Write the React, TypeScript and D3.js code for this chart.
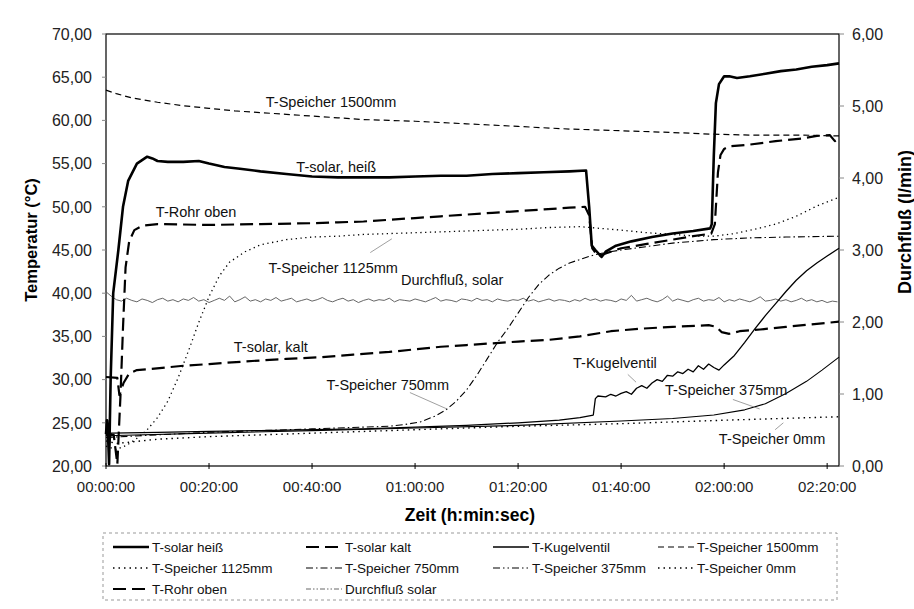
import React from "react";
import * as d3 from "d3";

// time in minutes since start, temperatures in °C, flow in l/min
const timeTicks = [0, 20, 40, 60, 80, 100, 120, 140];
const timeTickLabels = ["00:00:00", "00:20:00", "00:40:00", "01:00:00", "01:20:00", "01:40:00", "02:00:00", "02:20:00"];
const tempTicks = [20, 25, 30, 35, 40, 45, 50, 55, 60, 65, 70];
const flowTicks = [0, 1, 2, 3, 4, 5, 6];

const tSolarHeiss = [
  [0, 23.7], [0.2, 25.3], [0.4, 23.5], [0.6, 20.2], [0.9, 30], [1.4, 40], [2.4, 45], [3.3, 50], [4.3, 53],
  [6, 55], [8, 55.8], [9, 55.6], [10, 55.3], [12, 55.2], [15, 55.2], [18, 55.3], [20, 55.0], [23, 54.6],
  [26, 54.4], [30, 54.1], [35, 53.8], [40, 53.5], [45, 53.4], [50, 53.4], [55, 53.4], [60, 53.5], [65, 53.6],
  [70, 53.6], [75, 53.8], [80, 53.9], [85, 54.0], [90, 54.1], [93.2, 54.2], [93.8, 50], [94.3, 45.5],
  [95, 45], [96.2, 44.2], [97, 44.8], [99, 45.5], [102, 46], [106, 46.5], [110, 46.9], [114, 47.2],
  [117.3, 47.5], [117.6, 48], [118, 56], [118.4, 62], [119, 64.2], [120, 65.1], [121, 65.1], [122.5, 64.9],
  [125, 65.1], [128, 65.4], [131, 65.7], [134, 65.9], [137, 66.2], [140, 66.4], [142.3, 66.6],
];
const tSolarKalt = [
  [0, 30.3], [2.2, 30.2], [2.6, 28.2], [3.4, 29.6], [4.5, 30.7], [6, 31.1], [8, 31.2], [15, 31.6], [20, 31.8],
  [27, 32.1], [35, 32.4], [42, 32.6], [48, 32.9], [55, 33.2], [60, 33.5], [65, 33.8], [70, 34.0], [75, 34.2],
  [80, 34.4], [86, 34.6], [92, 35.0], [98, 35.6], [104, 35.9], [110, 36.1], [117, 36.3], [118.5, 36.1],
  [119.5, 35.5], [121, 35.3], [123, 35.6], [127, 35.8], [132, 36.1], [137, 36.4], [142.3, 36.7],
];
const tKugelventil = [
  [0, 23.8], [0.3, 25], [0.6, 22], [1, 23.8], [10, 23.9], [20, 24.0], [30, 24.1], [40, 24.2], [50, 24.3],
  [60, 24.5], [70, 24.7], [80, 25.0], [88, 25.3], [92, 25.6], [94.6, 25.9], [95, 27.8], [95.5, 28.1],
  [97, 28.0], [98, 28.3], [99, 28.1], [100, 28.4], [101, 28.6], [102, 28.3], [103, 29.0], [104, 29.3],
  [105, 29.0], [106, 29.6], [107, 30.0], [108, 29.8], [109, 30.5], [110, 30.4], [111, 30.9], [112, 30.7],
  [113, 31.2], [114, 30.9], [115, 31.6], [116, 31.2], [117, 31.8], [118, 31.4], [119, 31.1], [120, 31.7],
  [122, 32.8], [124, 34.3], [126, 35.9], [128, 37.4], [130, 38.8], [132, 40.2], [134, 41.5], [136, 42.6],
  [138, 43.5], [140, 44.3], [142.3, 45.2],
];
const tSpeicher1500 = [
  [0, 63.5], [2, 63.1], [5, 62.6], [10, 62.1], [15, 61.7], [20, 61.4], [25, 61.1], [30, 60.9], [35, 60.7],
  [40, 60.5], [45, 60.3], [50, 60.1], [55, 60.0], [60, 59.9], [70, 59.6], [80, 59.3], [90, 59.0],
  [100, 58.8], [110, 58.6], [118, 58.4], [125, 58.3], [135, 58.3], [142.3, 58.2],
];
const tSpeicher1125 = [
  [0, 22.3], [2, 21.9], [4, 22.4], [6, 23.2], [8, 24.2], [10, 25.6], [12, 27.5], [14, 30.2], [16, 33.3],
  [18, 36.6], [20, 39.6], [22, 42.0], [24, 43.6], [27, 44.8], [30, 45.6], [35, 46.2], [40, 46.5], [45, 46.6],
  [50, 46.8], [55, 46.9], [60, 47.0], [70, 47.2], [80, 47.4], [86, 47.6], [92, 47.7], [96, 47.5], [100, 47.3],
  [105, 47.0], [110, 46.8], [115, 46.6], [118, 46.6], [122, 46.9], [126, 47.4], [130, 48.0], [134, 48.9],
  [138, 50.1], [142.3, 51.1],
];
const tSpeicher750 = [
  [0, 23.3], [10, 23.6], [20, 23.9], [30, 24.1], [40, 24.3], [50, 24.5], [55, 24.6], [58, 24.8], [61, 25.1],
  [64, 25.8], [66, 26.5], [68, 27.5], [70, 28.8], [72, 30.5], [74, 32.4], [76, 34.3], [78, 35.9], [80, 37.7],
  [82, 39.5], [84, 41.0], [86, 42.1], [88, 42.9], [90, 43.5], [92, 43.9], [94, 44.3], [96, 44.6], [100, 45.0],
  [105, 45.4], [110, 45.8], [118, 46.2], [125, 46.4], [132, 46.5], [142.3, 46.6],
];
const tSpeicher375 = [
  [0, 23.5], [20, 23.8], [40, 24.1], [60, 24.4], [80, 24.7], [100, 25.2], [110, 25.5], [118, 25.9],
  [124, 26.5], [128, 27.2], [132, 28.4], [136, 29.8], [139, 31.1], [142.3, 32.6],
];
const tSpeicher0 = [
  [0, 22.9], [2, 22.6], [10, 23.1], [20, 23.4], [40, 23.8], [60, 24.2], [80, 24.6], [100, 24.9],
  [120, 25.3], [142.3, 25.7],
];
const tRohrOben = [
  [0, 23.6], [1.5, 23.6], [2.2, 20.2], [2.8, 28], [3.3, 36], [3.8, 43], [4.5, 46], [5.5, 47.3], [7, 47.8],
  [10, 48], [20, 47.9], [30, 48], [40, 48.1], [45, 48.2], [50, 48.3], [55, 48.5], [60, 48.7], [65, 48.9],
  [70, 49.1], [75, 49.3], [80, 49.5], [85, 49.7], [90, 49.9], [93, 50.0], [93.8, 49], [94.4, 45.2],
  [95.5, 44.3], [97, 44.6], [100, 45.2], [105, 45.7], [110, 46.2], [114, 46.6], [117.5, 46.9], [118.2, 48],
  [118.8, 54], [119.3, 56], [120, 56.7], [121, 57], [125, 57.2], [130, 57.6], [135, 57.9], [138, 58.2],
  [140.5, 58.3], [141.5, 57.6], [142.3, 57.9],
];
// Durchfluß solar, one value per minute (right axis)
const durchfluss = [
  2.42, 2.36, 2.31, 2.29, 2.33, 2.30, 2.28, 2.32, 2.30, 2.27,
  2.31, 2.33, 2.29, 2.31, 2.28, 2.32, 2.30, 2.34, 2.29, 2.31,
  2.27, 2.30, 2.33, 2.30, 2.36, 2.28, 2.31, 2.35, 2.29, 2.31,
  2.28, 2.32, 2.30, 2.34, 2.29, 2.31, 2.33, 2.28, 2.30, 2.32,
  2.29, 2.31, 2.34, 2.30, 2.28, 2.31, 2.33, 2.29, 2.31, 2.27,
  2.30, 2.32, 2.29, 2.31, 2.30, 2.33, 2.28, 2.31, 2.30, 2.29,
  2.32, 2.30, 2.28, 2.31, 2.34, 2.29, 2.31, 2.30, 2.28, 2.32,
  2.31, 2.29, 2.33, 2.30, 2.31, 2.28, 2.32, 2.30, 2.29, 2.31,
  2.30, 2.33, 2.29, 2.31, 2.28, 2.30, 2.32, 2.29, 2.31, 2.30,
  2.28, 2.31, 2.29, 2.33, 2.30, 2.32, 2.29, 2.31, 2.30, 2.28,
  2.32, 2.30, 2.37, 2.29, 2.31, 2.33, 2.30, 2.28, 2.31, 2.36,
  2.29, 2.32, 2.30, 2.28, 2.31, 2.33, 2.29, 2.31, 2.30, 2.34,
  2.28, 2.31, 2.29, 2.32, 2.30, 2.28, 2.31, 2.35, 2.29, 2.30,
  2.32, 2.29, 2.31, 2.28, 2.30, 2.33, 2.29, 2.31, 2.28, 2.30,
  2.27, 2.29, 2.28,
];

// in-plot annotations: [text, t, temp], leaders: [t1, T1, t2, T2]
const annotations = [
  ["T-Speicher 1500mm", 43.7, 62.1],
  ["T-solar, heiß", 44.7, 54.6],
  ["T-Rohr oben", 17.5, 49.4],
  ["T-Speicher 1125mm", 44.1, 43.0],
  ["Durchfluß, solar", 67.2, 41.5],
  ["T-solar, kalt", 32.0, 33.8],
  ["T-Kugelventil", 98.8, 31.9],
  ["T-Speicher 750mm", 54.7, 29.4],
  ["T-Speicher 375mm", 120.4, 28.8],
  ["T-Speicher 0mm", 129.3, 23.2],
];
const leaders = [
  [51.3, 44.7, 55.5, 46.3],
  [59.0, 28.5, 66.2, 26.6],
  [101.3, 30.6, 102.9, 29.7],
  [121.7, 27.7, 126.9, 26.6],
  [129.9, 24.2, 131.5, 25.0],
];

const FONT = "Arial, 'Liberation Sans', Helvetica, sans-serif";

const x = d3.scaleLinear().domain([0, 142.3]).range([106, 839]);
const yT = d3.scaleLinear().domain([20, 70]).range([466, 34]);
const yF = d3.scaleLinear().domain([0, 6]).range([466, 34]);
const fmt = (v: number) => d3.format(".2f")(v).replace(".", ",");

const tempLine = d3.line<number[]>().x((d) => x(d[0])).y((d) => yT(d[1]));
const flowLine = d3.line<number>().x((d, i) => x(i)).y((d) => yF(d));

const series = [
  { name: "T-solar heiß", data: tSolarHeiss, w: 2.6, dash: "", leg: "" },
  { name: "T-solar kalt", data: tSolarKalt, w: 2.2, dash: "13,6", leg: "13,6" },
  { name: "T-Kugelventil", data: tKugelventil, w: 1.3, dash: "", leg: "" },
  { name: "T-Speicher 1500mm", data: tSpeicher1500, w: 1.2, dash: "6,4", leg: "6,4" },
  { name: "T-Speicher 1125mm", data: tSpeicher1125, w: 1.3, dash: "1.3,3.5", leg: "1.5,4" },
  { name: "T-Speicher 750mm", data: tSpeicher750, w: 1.1, dash: "7,3,1.5,3", leg: "7,3,1.5,3" },
  { name: "T-Speicher 375mm", data: tSpeicher375, w: 1.1, dash: "", leg: "7,3,1.5,3,1.5,3" },
  { name: "T-Speicher 0mm", data: tSpeicher0, w: 1.4, dash: "1.5,4", leg: "1.5,4" },
  { name: "T-Rohr oben", data: tRohrOben, w: 2.2, dash: "13,6", leg: "13,6" },
];

const legendTextX = [152, 345, 532, 697];
const legendRowY = [547, 568, 589];

export default function App() {
  const legendItems = [...series.map((s) => ({ name: s.name, w: s.w, dash: s.leg, color: "#000" })),
    { name: "Durchfluß solar", w: 0.9, dash: "5,2,1.5,2,1.5,2", color: "#555" }];

  return (
    <svg width={914} height={609} style={{ position: "fixed", left: 0, top: 0, background: "#fff" }}
      fontFamily={FONT}>
      <rect width={914} height={609} fill="#fff" />

      {/* frame */}
      <rect x={x(0)} y={yT(70)} width={x(142.3) - x(0)} height={yT(20) - yT(70)} fill="none" stroke="#000" strokeWidth={1.2} />

      {/* left axis */}
      {tempTicks.map((t) => (
        <g key={"lt" + t}>
          <line x1={x(0) - 4} x2={x(0)} y1={yT(t)} y2={yT(t)} stroke="#888" strokeWidth={1} />
          <text x={92} y={yT(t)} dy="0.36em" textAnchor="end" fontSize={16} fill="#222">{fmt(t)}</text>
        </g>
      ))}
      {/* right axis */}
      {flowTicks.map((f) => (
        <g key={"rt" + f}>
          <line x1={x(142.3)} x2={x(142.3) + 5} y1={yF(f)} y2={yF(f)} stroke="#888" strokeWidth={1} />
          <text x={852} y={yF(f)} dy="0.36em" textAnchor="start" fontSize={16} fill="#222">{fmt(f)}</text>
        </g>
      ))}
      {/* bottom axis */}
      {timeTicks.map((t, i) => (
        <g key={"bt" + t}>
          <line x1={x(t)} x2={x(t)} y1={yT(20) - 3} y2={yT(20) + 3} stroke="#000" strokeWidth={1} />
          <text x={x(t)} y={487} dy="0.36em" textAnchor="middle" fontSize={15} fill="#222">{timeTickLabels[i]}</text>
        </g>
      ))}

      <text transform="translate(37,240) rotate(-90)" textAnchor="middle" fontSize={16.5} fontWeight="bold">Temperatur (°C)</text>
      <text transform="translate(911,222) rotate(-90)" textAnchor="middle" fontSize={18} fontWeight="bold">Durchfluß (l/min)</text>
      <text x={470} y={521} textAnchor="middle" fontSize={17.5} fontWeight="bold">Zeit (h:min:sec)</text>

      {/* series */}
      <path d={flowLine(durchfluss) || ""} fill="none" stroke="#555" strokeWidth={0.9} />
      {series.map((s) => (
        <path key={s.name} d={tempLine(s.data) || ""} fill="none" stroke="#000" strokeWidth={s.w}
          strokeDasharray={s.dash || undefined} strokeLinejoin="round" />
      ))}

      {/* annotations */}
      {leaders.map((l, i) => (
        <line key={"ld" + i} x1={x(l[0])} y1={yT(l[1])} x2={x(l[2])} y2={yT(l[3])} stroke="#888" strokeWidth={0.8} />
      ))}
      {annotations.map((a) => (
        <text key={a[0] as string} x={x(a[1] as number)} y={yT(a[2] as number)} dy="0.36em" textAnchor="middle"
          fontSize={14.5} fill="#111">{a[0]}</text>
      ))}

      {/* legend */}
      <rect x={103} y={533} width={734} height={67} fill="none" stroke="#999" strokeWidth={1} strokeDasharray="3,3" />
      {legendItems.map((it, i) => {
        const col = i % 4;
        const row = Math.floor(i / 4);
        const tx = legendTextX[col];
        const ty = legendRowY[row];
        return (
          <g key={"lg" + i}>
            <line x1={tx - 39} x2={tx - 3} y1={ty} y2={ty} stroke={it.color} strokeWidth={it.w}
              strokeDasharray={it.dash || undefined} />
            <text x={tx} y={ty} dy="0.36em" fontSize={13.5} fill="#111">{it.name}</text>
          </g>
        );
      })}
    </svg>
  );
}
